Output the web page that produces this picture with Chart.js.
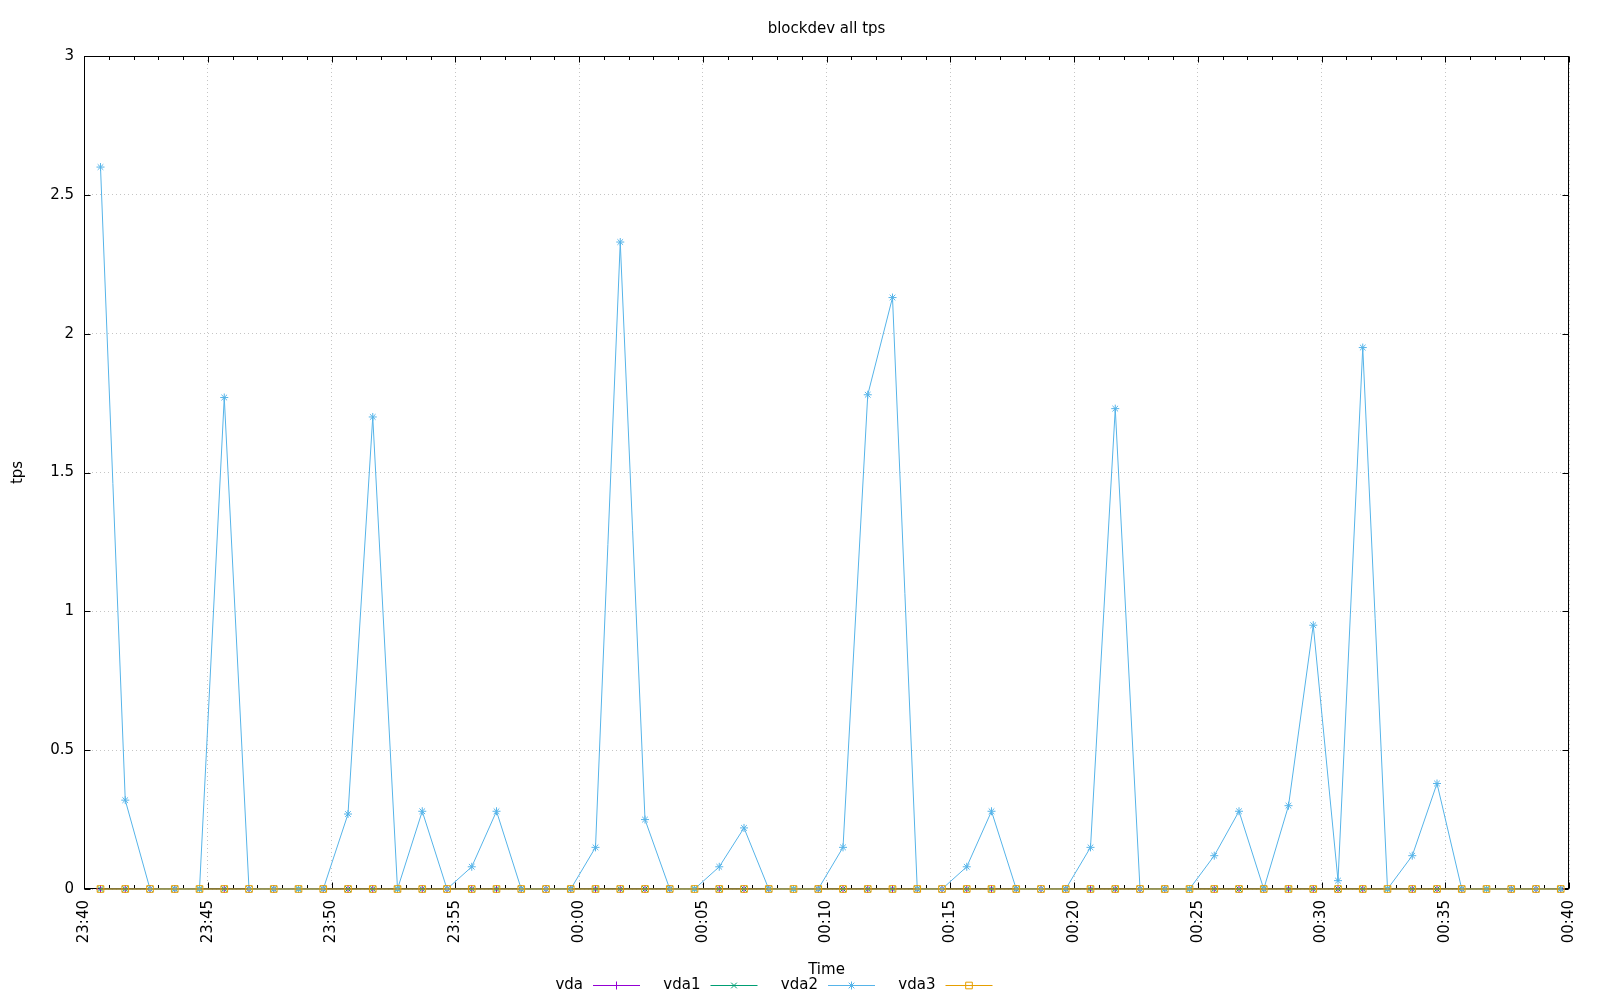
<!DOCTYPE html>
<html>
<head>
<meta charset="utf-8">
<title>blockdev all tps</title>
<script src="https://cdn.jsdelivr.net/npm/chart.js@4"></script>
<style>
  html, body { margin: 0; padding: 0; background: #fff; }
</style>
</head>
<body>
<canvas id="tpsChart" width="1600" height="1000"></canvas>
<script>
// sample times, one every minute
const times = [
  '23:40:40', '23:41:40', '23:42:40', '23:43:40', '23:44:40', '23:45:40', '23:46:40', '23:47:40', '23:48:40', '23:49:40',
  '23:50:40', '23:51:40', '23:52:40', '23:53:40', '23:54:40', '23:55:40', '23:56:40', '23:57:40', '23:58:40', '23:59:40',
  '00:00:40', '00:01:40', '00:02:40', '00:03:40', '00:04:40', '00:05:40', '00:06:40', '00:07:40', '00:08:40', '00:09:40',
  '00:10:40', '00:11:40', '00:12:40', '00:13:40', '00:14:40', '00:15:40', '00:16:40', '00:17:40', '00:18:40', '00:19:40',
  '00:20:40', '00:21:40', '00:22:40', '00:23:40', '00:24:40', '00:25:40', '00:26:40', '00:27:40', '00:28:40', '00:29:40',
  '00:30:40', '00:31:40', '00:32:40', '00:33:40', '00:34:40', '00:35:40', '00:36:40', '00:37:40', '00:38:40', '00:39:40'
];

const vda = [
  0, 0, 0, 0, 0, 0, 0, 0, 0, 0, 0, 0, 0, 0, 0, 0, 0, 0, 0, 0,
  0, 0, 0, 0, 0, 0, 0, 0, 0, 0, 0, 0, 0, 0, 0, 0, 0, 0, 0, 0,
  0, 0, 0, 0, 0, 0, 0, 0, 0, 0, 0, 0, 0, 0, 0, 0, 0, 0, 0, 0
];
const vda1 = [
  0, 0, 0, 0, 0, 0, 0, 0, 0, 0, 0, 0, 0, 0, 0, 0, 0, 0, 0, 0,
  0, 0, 0, 0, 0, 0, 0, 0, 0, 0, 0, 0, 0, 0, 0, 0, 0, 0, 0, 0,
  0, 0, 0, 0, 0, 0, 0, 0, 0, 0, 0, 0, 0, 0, 0, 0, 0, 0, 0, 0
];
const vda2 = [
  2.6, 0.32, 0, 0, 0, 1.77, 0, 0, 0, 0,
  0.27, 1.7, 0, 0.28, 0, 0.08, 0.28, 0, 0, 0,
  0.15, 2.33, 0.25, 0, 0, 0.08, 0.22, 0, 0, 0,
  0.15, 1.78, 2.13, 0, 0, 0.08, 0.28, 0, 0, 0,
  0.15, 1.73, 0, 0, 0, 0.12, 0.28, 0, 0.3, 0.95,
  0.03, 1.95, 0, 0.12, 0.38, 0, 0, 0, 0, 0
];
const vda3 = [
  0, 0, 0, 0, 0, 0, 0, 0, 0, 0, 0, 0, 0, 0, 0, 0, 0, 0, 0, 0,
  0, 0, 0, 0, 0, 0, 0, 0, 0, 0, 0, 0, 0, 0, 0, 0, 0, 0, 0, 0,
  0, 0, 0, 0, 0, 0, 0, 0, 0, 0, 0, 0, 0, 0, 0, 0, 0, 0, 0, 0
];

const xTickLabels = ['23:40', '23:45', '23:50', '23:55', '00:00', '00:05', '00:10',
                     '00:15', '00:20', '00:25', '00:30', '00:35', '00:40'];
const chartTitle = 'blockdev all tps';

// minutes since 23:40 (wraps past midnight)
function toMinutes(t) {
  const [h, m, s] = t.split(':').map(Number);
  let total = h * 60 + m + s / 60;
  if (h < 12) total += 24 * 60;
  return total - (23 * 60 + 40);
}

function points(values) {
  return values.map((v, i) => ({ x: toMinutes(times[i]), y: v }));
}

function makeSet(label, values, color, style, radius, order) {
  return {
    label: label,
    data: points(values),
    borderColor: color,
    backgroundColor: color,
    borderWidth: 1,
    pointStyle: style,
    pointRadius: radius,
    pointBorderWidth: 1,
    pointBorderColor: color,
    pointBackgroundColor: 'rgba(0,0,0,0)',
    tension: 0,
    clip: false,
    order: order
  };
}

// inward ticks + full box like gnuplot, title centred over the plot
const frame = {
  id: 'frame',
  beforeDatasetsDraw(chart) {
    const { ctx, chartArea: a, scales: { x, y } } = chart;
    const L = Math.round(a.left) + 0.5, R = Math.round(a.right) - 0.5;
    const T = Math.round(a.top) + 0.5, B = Math.round(a.bottom) - 0.5;
    ctx.save();
    ctx.strokeStyle = '#000';
    ctx.lineWidth = 1;
    ctx.beginPath();
    for (let m = 0; m <= 60; m++) {
      const px = Math.round(x.getPixelForValue(m)) + 0.5;
      const len = m % 5 === 0 ? 6 : 3.5;
      ctx.moveTo(px, B); ctx.lineTo(px, B - len);
      ctx.moveTo(px, T); ctx.lineTo(px, T + len);
    }
    y.ticks.forEach(t => {
      const py = Math.round(y.getPixelForValue(t.value)) + 0.5;
      ctx.moveTo(L, py); ctx.lineTo(L + 6, py);
      ctx.moveTo(R, py); ctx.lineTo(R - 6, py);
    });
    ctx.stroke();
    ctx.strokeRect(L, T, R - L, B - T);

    ctx.fillStyle = '#000';
    ctx.font = '15px "DejaVu Sans"';
    ctx.textAlign = 'center';
    ctx.textBaseline = 'middle';
    ctx.fillText(chartTitle, (a.left + a.right) / 2, 29);
    ctx.restore();
  }
};

// gnuplot style key: text then sample line with marker
const key = {
  id: 'key',
  afterDraw(chart) {
    const ctx = chart.ctx;
    const cx = chart.width / 2;
    const ky = 985;
    ctx.save();
    ctx.font = '15px "DejaVu Sans"';
    ctx.textAlign = 'right';
    ctx.textBaseline = 'middle';
    chart.data.datasets.forEach((ds, k) => {
      const x0 = cx - 207 + k * 117.5;
      ctx.fillStyle = '#000';
      ctx.fillText(ds.label, x0 - 10, ky);
      ctx.strokeStyle = ds.borderColor;
      ctx.lineWidth = 1;
      ctx.beginPath();
      ctx.moveTo(x0, ky + 0.5); ctx.lineTo(x0 + 47, ky + 0.5);
      ctx.stroke();
      ctx.fillStyle = 'rgba(0,0,0,0)';
      Chart.helpers.drawPoint(ctx, {
        pointStyle: ds.pointStyle, radius: ds.pointRadius, borderWidth: 1, rotation: 0
      }, x0 + 23.5, ky + 0.5);
    });
    ctx.restore();
  }
};

Chart.defaults.font.family = '"DejaVu Sans", sans-serif';
Chart.defaults.font.size = 15;
Chart.defaults.color = '#000';

const gridDots = { color: 'rgba(150,150,150,0.55)', lineWidth: 1, drawTicks: false };

new Chart(document.getElementById('tpsChart').getContext('2d'), {
  type: 'line',
  data: {
    datasets: [
      makeSet('vda', vda, '#9400d3', 'cross', 4, 3),
      makeSet('vda1', vda1, '#009e73', 'crossRot', 4, 2),
      makeSet('vda2', vda2, '#56b4e9', 'star', 4, 1),
      makeSet('vda3', vda3, '#e69f00', 'rect', 4.7, 0)
    ]
  },
  options: {
    responsive: false,
    animation: false,
    layout: { padding: { left: 0, right: 31, top: 56, bottom: 0 } },
    plugins: {
      legend: { display: false },
      tooltip: { enabled: false },
      title: { display: false }
    },
    scales: {
      x: {
        type: 'linear',
        min: 0,
        max: 60,
        grid: gridDots,
        border: { display: false, dash: [1, 3] },
        ticks: {
          stepSize: 5,
          autoSkip: false,
          minRotation: 90,
          maxRotation: 90,
          padding: 11,
          callback: v => xTickLabels[Math.round(v / 5)]
        },
        title: { display: true, text: 'Time', padding: { top: 0, bottom: 21 } },
        afterFit: s => { s.height = 111; }
      },
      y: {
        min: 0,
        max: 3,
        grid: gridDots,
        border: { display: false, dash: [1, 3] },
        ticks: { stepSize: 0.5, padding: 10, callback: v => String(v) },
        title: { display: true, text: 'tps', padding: { top: 9.5, bottom: 0 } },
        afterFit: s => { s.width = 84; }
      }
    }
  },
  plugins: [frame, key]
});
</script>
</body>
</html>
